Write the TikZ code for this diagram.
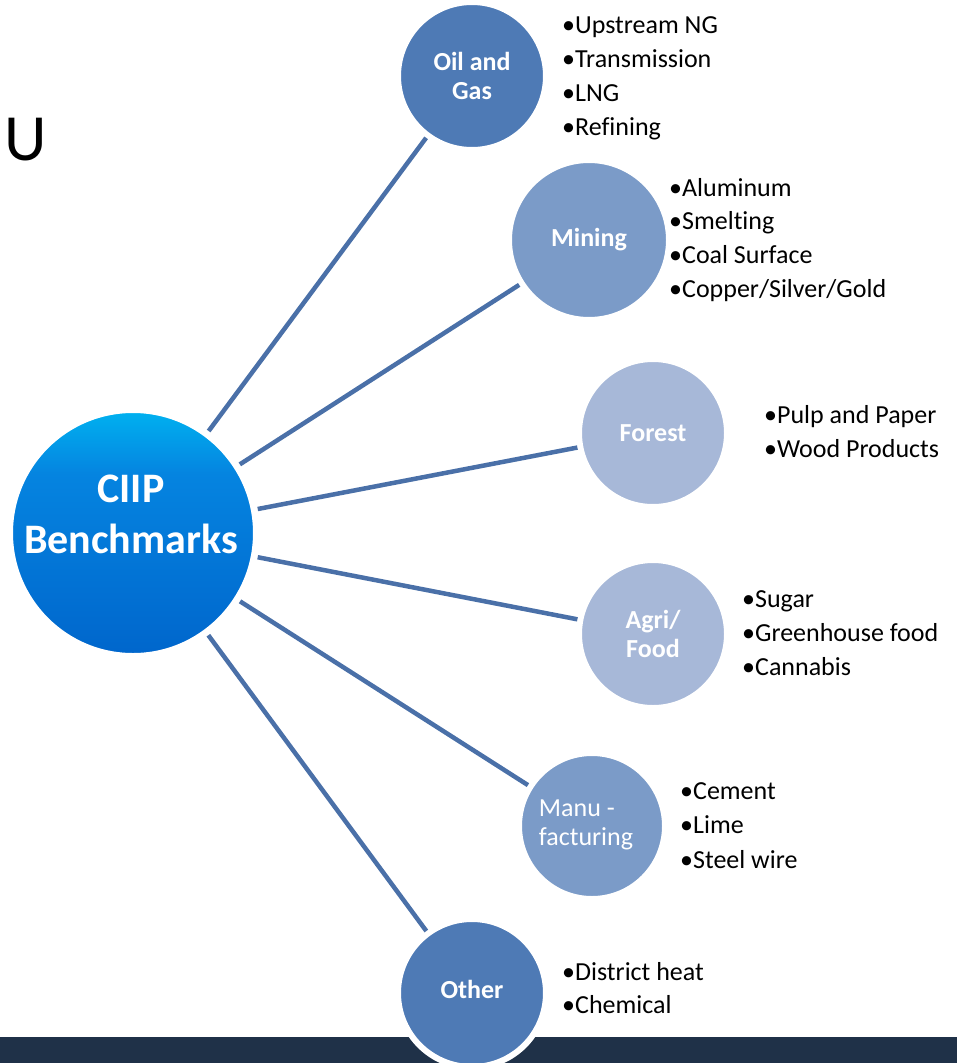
\documentclass[tikz,border=0pt]{standalone}
\usepackage{fontspec}
\setmainfont{Carlito}[Ligatures=NoCommon]
\definecolor{cDark}{HTML}{4E7AB5}
\definecolor{cMid}{HTML}{7B9BC8}
\definecolor{cLight}{HTML}{A7B8D8}
\definecolor{lineC}{HTML}{4A70A8}
\definecolor{barC}{HTML}{1F3148}
\definecolor{cTop}{HTML}{00B2F0}
\definecolor{cUp}{HTML}{0584E0}
\definecolor{cBot}{HTML}{0066CC}
\pgfdeclareverticalshading{ciip}{100bp}{color(0bp)=(cBot); color(25bp)=(cBot); color(62bp)=(cUp); color(75bp)=(cTop); color(100bp)=(cTop)}
\begin{document}
\begin{tikzpicture}[x=1pt,y=-1pt,
  bubble/.style={circle, draw=white, line width=6pt, inner sep=0pt, text=white,
    font=\bfseries\fontsize{26}{29}\selectfont, align=center, minimum size=148pt},
  item/.style={anchor=base west, inner sep=0pt, font=\fontsize{26}{34}\selectfont},
  link/.style={draw=lineC, line width=4.5pt}]
\useasboundingbox (0,0) rectangle (957,1063);
\fill[barC] (0,1037) rectangle (957,1063);
\node[anchor=base west, inner sep=0pt, font=\fontsize{66}{66}\selectfont] (u) at (4,160) {U};
% central
\node[circle, draw=white, line width=7pt, shading=ciip, minimum size=247pt, inner sep=0pt] (c) at (133,533) {};
\node[text=white, font=\bfseries\fontsize{42}{51}\selectfont, align=center, inner sep=0pt] (ctext) at (131,514) {CIIP\\Benchmarks};
% sectors
\node[bubble, fill=cDark] (oil) at (472,76) {Oil and\\Gas};
\node[bubble, fill=cMid, minimum size=160pt] (min) at (589,240) {Mining};
\node[bubble, fill=cLight] (for) at (653,433) {Forest};
\node[bubble, fill=cLight] (agr) at (653,634) {Agri/\\Food};
\node[bubble, fill=cMid, minimum size=146pt] (man) at (592,826) {};
\node[text=white, font=\fontsize{26}{29}\selectfont, align=left, inner sep=0pt] (mantext) at (586,825) {Manu -\\facturing};
\node[bubble, fill=cDark, text depth=8pt] (oth) at (472,993) {Other};
% links
\foreach \n in {oil,min,for,agr,man,oth} \draw[link] (c) -- (\n);
% lists
\foreach \t [count=\i from 0] in {Upstream NG, Transmission, LNG, Refining}
  \node[item] (oil-\i) at (562, 33+34.3*\i) {•\t};
\foreach \t [count=\i from 0] in {Aluminum, Smelting, Coal Surface, Copper/Silver/Gold}
  \node[item] (min-\i) at (669, 196+33.7*\i) {•\t};
\foreach \t [count=\i from 0] in {Pulp and Paper, Wood Products}
  \node[item] (for-\i) at (764, 423+34*\i) {•\t};
\foreach \t [count=\i from 0] in {Sugar, Greenhouse food, Cannabis}
  \node[item] (agr-\i) at (742, 607+34*\i) {•\t};
\foreach \t [count=\i from 0] in {Cement, Lime, Steel wire}
  \node[item] (man-\i) at (680, 799+34.5*\i) {•\t};
\foreach \t [count=\i from 0] in {District heat, Chemical}
  \node[item] (oth-\i) at (562, 980+33.5*\i) {•\t};
\end{tikzpicture}
\end{document}
